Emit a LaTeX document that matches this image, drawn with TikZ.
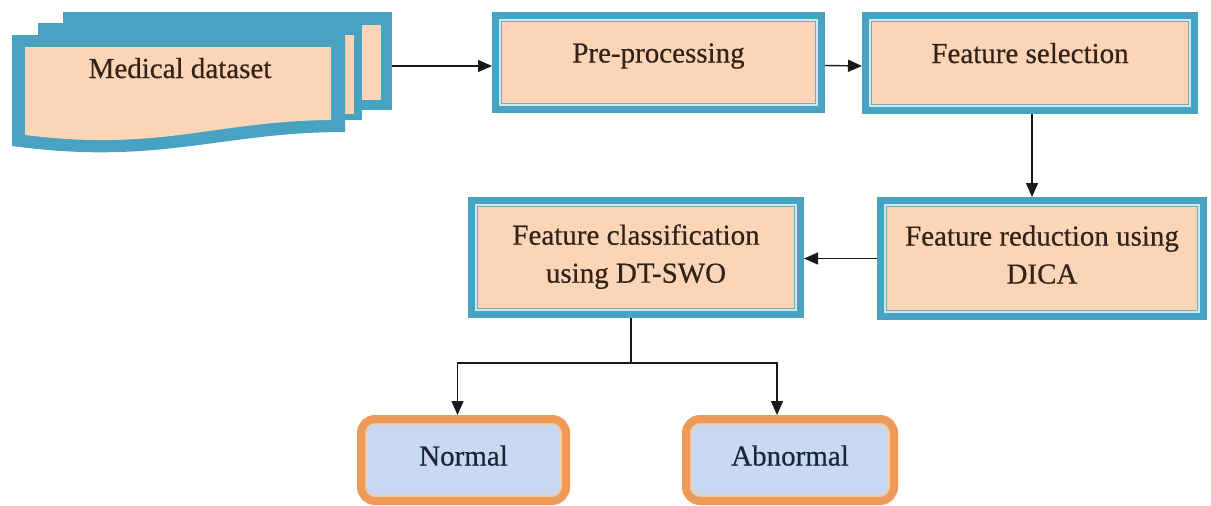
\documentclass[tikz,border=0pt]{standalone}
\usepackage{fontspec}
\setmainfont[FakeBold=0.5]{Liberation Serif}
\usetikzlibrary{arrows.meta,calc}

\definecolor{tealband}{RGB}{72,163,194}
\definecolor{lightline}{RGB}{208,233,240}
\definecolor{thinteal}{RGB}{112,172,188}
\definecolor{peach}{RGB}{251,213,182}
\definecolor{inktext}{RGB}{50,34,26}
\definecolor{orangeband}{RGB}{238,154,88}
\definecolor{lightorange}{RGB}{246,202,164}
\definecolor{paleblue}{RGB}{199,218,241}
\definecolor{navytext}{RGB}{28,36,58}
\definecolor{wire}{RGB}{25,25,25}

\tikzset{
  labelfont/.style={font=\fontsize{29}{38}\selectfont},
  stagebox/.style={
    draw=tealband, line width=7pt, fill=peach, inner sep=0pt,
    text=inktext, align=center, labelfont,
    path picture={
      \draw[lightline, line width=2pt]
        ([shift={(4.5pt,-4.5pt)}]path picture bounding box.north west) rectangle
        ([shift={(-4.5pt,4.5pt)}]path picture bounding box.south east);
      \draw[thinteal, line width=1.2pt]
        ([shift={(6.2pt,-6.2pt)}]path picture bounding box.north west) rectangle
        ([shift={(-6.2pt,6.2pt)}]path picture bounding box.south east);
    }},
  oneline/.style={text height=19pt, text depth=19pt},
  twoline/.style={text depth=8pt},
  outcome/.style={
    draw=orangeband, line width=8pt, rounded corners=14pt, fill=paleblue,
    inner sep=0pt, text=navytext, labelfont, text height=19pt, text depth=8pt,
    minimum height=82pt,
    path picture={
      \draw[lightorange, line width=1.6pt, rounded corners=10pt]
        ([shift={(5pt,-5pt)}]path picture bounding box.north west) rectangle
        ([shift={(-5pt,5pt)}]path picture bounding box.south east);
    }},
  flow/.style={draw=wire, line width=1.4pt, -{Triangle[length=14pt,width=12pt]}},
  wireline/.style={draw=wire, line width=1.4pt},
}

\begin{document}
\begin{tikzpicture}[x=1pt,y=-1pt]
\useasboundingbox (0,0) rectangle (1211,506);

% stacked document symbol, back sheets first
\fill[tealband] (63,12) rectangle (392,110);
\fill[peach] (76,25) rectangle (381,100);
\fill[tealband] (38,23) rectangle (362,120);
\fill[peach] (51,35) rectangle (354,114);
% front sheet with wavy lower edge
\fill[tealband] (12,35) -- (345,35) -- (345,132)
  .. controls (220,132) and (160,166) .. (12,146) -- cycle;
\fill[peach] (25,47) -- (331,47) -- (331,120)
  .. controls (215,121) and (160,152) .. (25,135) -- cycle;
\node[text=inktext, labelfont, oneline, inner sep=0pt] (dataset) at (180,78) {Medical dataset};
\coordinate (dsout) at (392,66);

% processing stages
\node[stagebox, oneline, minimum width=326pt, minimum height=94pt] (pre) at (658.5,62.5) {Pre-processing};
\node[stagebox, oneline, minimum width=329pt, minimum height=95pt] (fsel) at (1030,63) {Feature selection};
\node[stagebox, twoline, minimum width=323pt, minimum height=116pt] (fred) at (1042,258.5) {Feature reduction using\\DICA};
\node[stagebox, twoline, minimum width=329pt, minimum height=114pt] (fcls) at (636,257.5) {Feature classification\\using DT-SWO};

% outcomes
\node[outcome, minimum width=205pt] (normal) at (463.5,460) {Normal};
\node[outcome, minimum width=208pt] (abnormal) at (790,460) {Abnormal};

% connectors
\draw[flow] (dsout) -- (dsout -| pre.west);
\draw[flow] ([yshift=-3pt]pre.east) -- ([yshift=-3pt]fsel.west);
\draw[flow] ([xshift=2pt]fsel.south) -- ([xshift=2pt]fsel.south |- fred.north);
\draw[flow] (fred.west) -- (fred.west -| fcls.east);
\coordinate (split) at (631,363);
\draw[wireline] (split |- fcls.south) -- (split);
\draw[flow] (split) -| ([xshift=-6pt]normal.north);
\draw[flow] (split) -| ([xshift=-13pt]abnormal.north);
\end{tikzpicture}
\end{document}
